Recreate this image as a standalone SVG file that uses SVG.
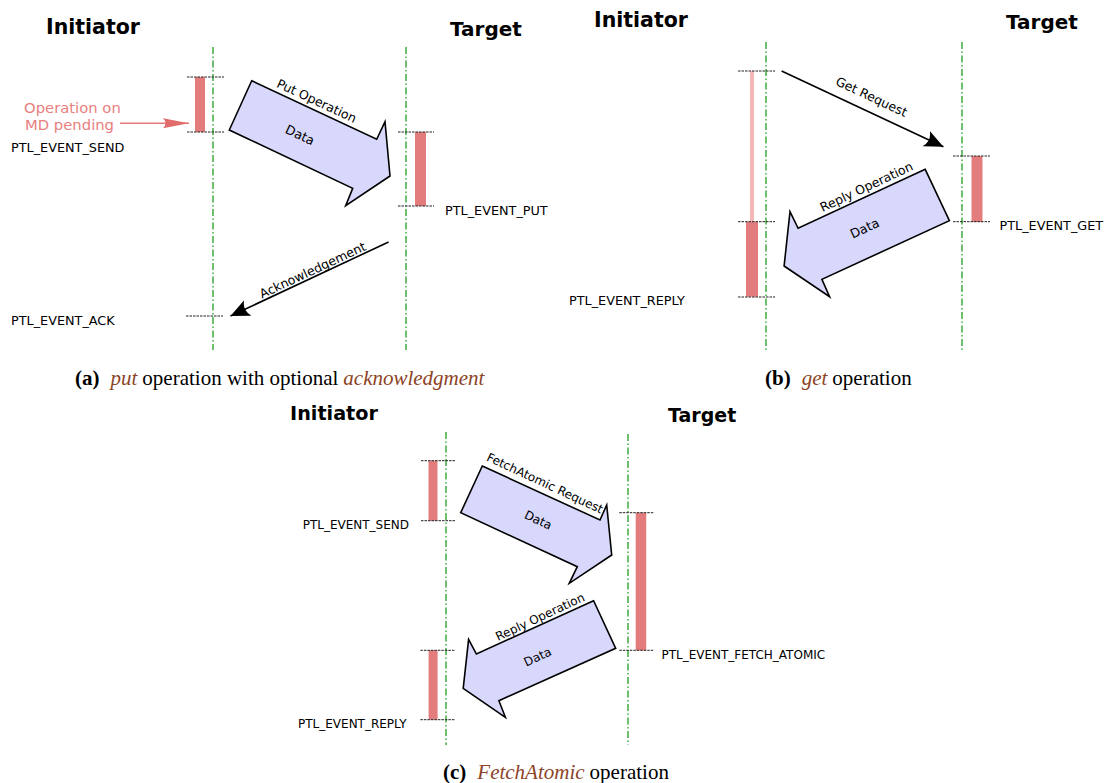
<svg xmlns="http://www.w3.org/2000/svg" width="1109" height="783" viewBox="0 0 1109 783">
<defs>
<style>
.title{font-family:"DejaVu Sans",sans-serif;font-weight:bold;fill:#000}
.lbl{font-family:"DejaVu Sans",sans-serif;fill:#000}
.cap{font-family:"Liberation Serif",serif;font-size:21px;fill:#000}
.capb{font-weight:bold}
.capi{font-style:italic;fill:#8c4326}
.life{stroke:#0d960d;stroke-width:1.2;stroke-dasharray:7,2.5,1.5,2.5;fill:none}
.tick{stroke:#222;stroke-width:1;stroke-dasharray:2.5,1;fill:none}
.bar{fill:#e37d7d}
.barl{fill:#f4b6b6}
.block{fill:#d8d8fd;stroke:#000;stroke-width:1.6;stroke-linejoin:miter}
.msg{stroke:#000;stroke-width:1.6;fill:none;marker-end:url(#ah)}
.pink{stroke:#e77b7b;stroke-width:1.6;fill:none;marker-end:url(#ahp)}
.pinkt{font-family:"DejaVu Sans",sans-serif;font-size:14.8px;fill:#e88080}
</style>
<marker id="ah" markerUnits="userSpaceOnUse" markerWidth="22" markerHeight="20" refX="19" refY="9" orient="auto" viewBox="0 0 22 20">
<path d="M19,9 L0,0.5 Q6,9 0,17.5 Z" fill="#000"/>
</marker>
<marker id="ahp" markerUnits="userSpaceOnUse" markerWidth="28" markerHeight="12" refX="26" refY="5.5" orient="auto" viewBox="0 0 28 12">
<path d="M26,5.5 L0,0.5 Q5,5.5 0,10.5 Z" fill="#e06c6c"/>
</marker>
</defs>
<rect width="1109" height="783" fill="#fff"/>

<!-- Panel (a) -->
<g id="a-initiator">
<text class="title" x="46" y="34" font-size="20.5">Initiator</text>
<line class="life" x1="213" y1="47" x2="213" y2="350"/>
</g>
<g id="a-target">
<text class="title" x="450" y="36" font-size="20">Target</text>
<line class="life" x1="406" y1="47" x2="406" y2="350"/>
</g>
<g id="a-send">
<rect class="bar" x="195" y="77" width="10" height="55"/>
<line class="tick" x1="187" y1="77" x2="224" y2="77"/>
<line class="tick" x1="187" y1="132" x2="224" y2="132"/>
<text class="lbl" x="11" y="152" font-size="12.8">PTL_EVENT_SEND</text>
</g>
<g id="a-pending">
<text class="pinkt" x="24" y="113">Operation on</text>
<text class="pinkt" x="25" y="129.5">MD pending</text>
</g>
<g id="a-put">
<rect class="bar" x="415" y="132" width="11" height="74"/>
<line class="tick" x1="398" y1="132" x2="434" y2="132"/>
<line class="tick" x1="398" y1="206" x2="434" y2="206"/>
<text class="lbl" x="445" y="215" font-size="12.8">PTL_EVENT_PUT</text>
</g>
<g id="a-ack">
<line class="tick" x1="186" y1="316" x2="223" y2="316"/>
<text class="lbl" x="11" y="325" font-size="12.8">PTL_EVENT_ACK</text>
</g>
<g id="a-put-op">
<polygon class="block" points="251.7,80.7 376.7,139.3 385,121.7 390,176 345.7,205.7 352.7,188.3 229.3,130"/>
<text class="lbl" font-size="12.5" text-anchor="middle" transform="translate(316.7,100.8) rotate(25)" y="4.5">Put Operation</text>
<text class="lbl" font-size="12.8" text-anchor="middle" transform="translate(300,135) rotate(25)" y="4.5">Data</text>
</g>

<!-- Panel (b) -->
<g id="b-initiator">
<text class="title" x="594" y="27" font-size="20.5">Initiator</text>
<line class="life" x1="766" y1="42" x2="766" y2="350"/>
</g>
<g id="b-target">
<text class="title" x="1006" y="29" font-size="20">Target</text>
<line class="life" x1="962" y1="42" x2="962" y2="350"/>
</g>
<g id="b-reply">
<rect class="barl" x="750" y="71" width="4" height="151"/>
<rect class="bar" x="746" y="221.7" width="12" height="75"/>
<line class="tick" x1="738" y1="71" x2="775" y2="71"/>
<line class="tick" x1="738" y1="221.7" x2="775" y2="221.7"/>
<line class="tick" x1="738" y1="297" x2="775" y2="297"/>
<text class="lbl" x="569" y="305" font-size="12.8">PTL_EVENT_REPLY</text>
</g>
<g id="b-get">
<rect class="bar" x="971.5" y="156" width="11" height="66"/>
<line class="tick" x1="953" y1="156" x2="990" y2="156"/>
<line class="tick" x1="953" y1="221.7" x2="990" y2="221.7"/>
<text class="lbl" x="999.5" y="230" font-size="12.8">PTL_EVENT_GET</text>
</g>
<g id="b-reply-op">
<polygon class="block" points="925.2,169.3 798.1,228.3 790,211.7 784.1,266 829.6,296.7 821.9,279.3 949.4,220.7"/>
<text class="lbl" font-size="12.5" text-anchor="middle" transform="translate(866.4,186.7) rotate(-25)" y="4.5">Reply Operation</text>
<text class="lbl" font-size="12.8" text-anchor="middle" transform="translate(864.6,228.3) rotate(-25)" y="4.5">Data</text>
</g>

<!-- Panel (c) -->
<g id="c-initiator">
<text class="title" x="290" y="420" font-size="19.2">Initiator</text>
<line class="life" x1="446" y1="432" x2="446" y2="745"/>
</g>
<g id="c-target">
<text class="title" x="668" y="422" font-size="19">Target</text>
<line class="life" x1="628" y1="434" x2="628" y2="745"/>
</g>
<g id="c-send">
<rect class="bar" x="428.5" y="460.7" width="9" height="60"/>
<line class="tick" x1="421" y1="460.7" x2="455" y2="460.7"/>
<line class="tick" x1="421" y1="520.7" x2="455" y2="520.7"/>
<text class="lbl" x="302.7" y="529.3" font-size="12">PTL_EVENT_SEND</text>
</g>
<g id="c-fetch">
<rect class="bar" x="635.7" y="512.7" width="10.5" height="137.6"/>
<line class="tick" x1="619.3" y1="512.7" x2="653.5" y2="512.7"/>
<line class="tick" x1="619.3" y1="650.3" x2="653.5" y2="650.3"/>
<text class="lbl" x="661.4" y="659" font-size="12">PTL_EVENT_FETCH_ATOMIC</text>
</g>
<g id="c-reply">
<rect class="bar" x="428.6" y="650.3" width="9" height="69.4"/>
<line class="tick" x1="420.4" y1="650.3" x2="455" y2="650.3"/>
<line class="tick" x1="420.4" y1="719.7" x2="455" y2="719.7"/>
<text class="lbl" x="298" y="728.3" font-size="12">PTL_EVENT_REPLY</text>
</g>
<g id="c-fetch-op">
<polygon class="block" points="482.3,466 600,520 606.7,505 611.7,555 569.3,583.3 577.3,566.7 460.7,512.7"/>
<text class="lbl" font-size="12" text-anchor="middle" transform="translate(545,483) rotate(25)" y="4.3">FetchAtomic Request</text>
<text class="lbl" font-size="12" text-anchor="middle" transform="translate(538.3,520) rotate(25)" y="4.3">Data</text>
</g>
<g id="c-reply-op">
<polygon class="block" points="593.6,600.7 476.4,654 468.6,639.3 463.2,688.3 505.4,717.3 498.9,700.7 615.7,648.3"/>
<text class="lbl" font-size="12" text-anchor="middle" transform="translate(540,616.7) rotate(-25)" y="4.3">Reply Operation</text>
<text class="lbl" font-size="12" text-anchor="middle" transform="translate(537.5,656.7) rotate(-25)" y="4.3">Data</text>
</g>

<!-- Connectors -->
<g id="connectors">
<line class="pink" x1="120" y1="123.3" x2="189" y2="123.3"/>
<line class="msg" x1="388.6" y1="242" x2="230.5" y2="316"/>
<text class="lbl" font-size="12.5" text-anchor="middle" transform="translate(312.6,270) rotate(-25)" y="4.5">Acknowledgement</text>
<line class="msg" x1="781.6" y1="71" x2="943.4" y2="146.7"/>
<text class="lbl" font-size="12.5" text-anchor="middle" transform="translate(871.6,96.7) rotate(25)" y="4.5">Get Request</text>
</g>

<!-- Captions -->
<g id="captions">
<text class="cap" x="75" y="385"><tspan class="capb">(a)</tspan><tspan class="capi" dx="11">put</tspan><tspan dx="5">operation with optional</tspan><tspan class="capi" dx="5">acknowledgment</tspan></text>
<text class="cap" x="765" y="385"><tspan class="capb">(b)</tspan><tspan class="capi" dx="11">get</tspan><tspan dx="5">operation</tspan></text>
<text class="cap" x="443" y="779"><tspan class="capb">(c)</tspan><tspan class="capi" dx="11">FetchAtomic</tspan><tspan dx="5">operation</tspan></text>
</g>
</svg>
